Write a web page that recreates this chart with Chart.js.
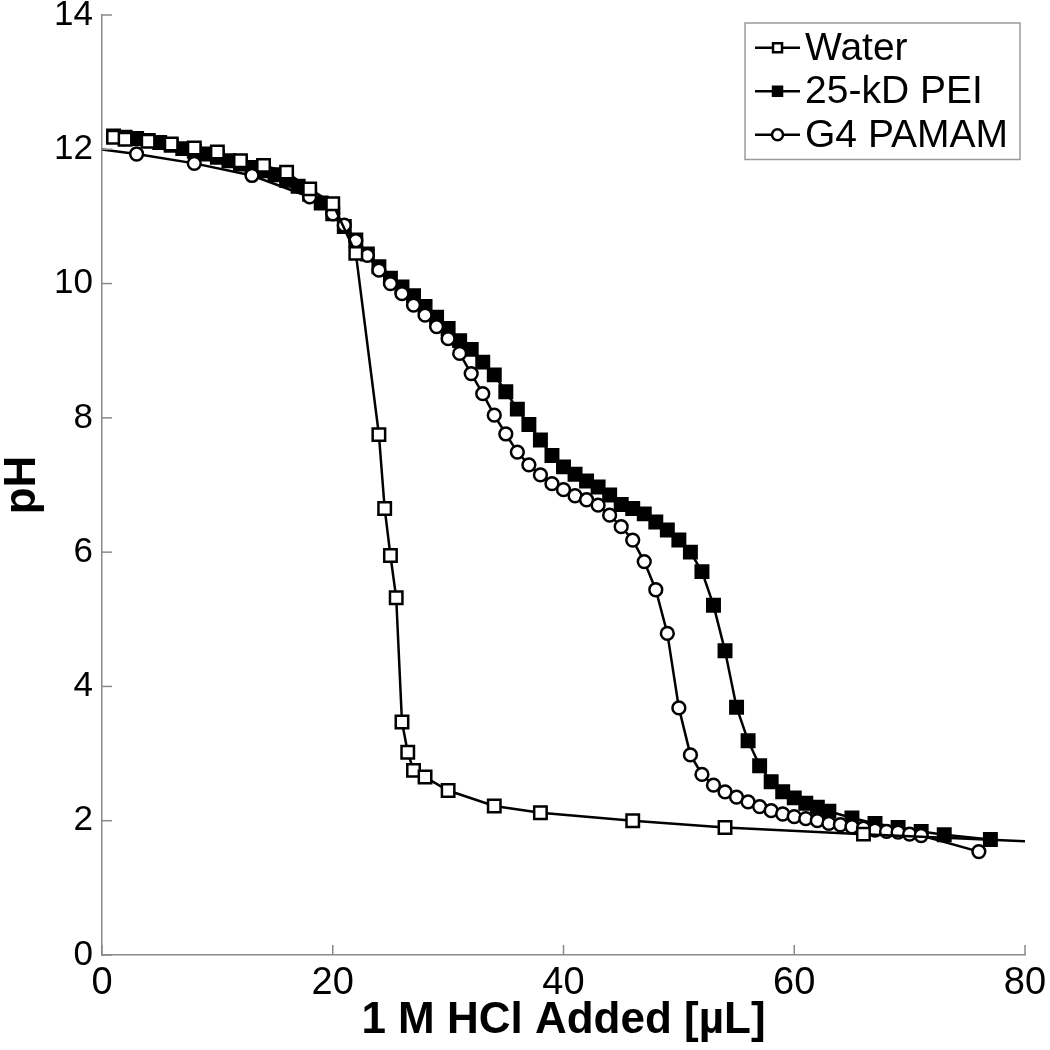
<!DOCTYPE html>
<html>
<head>
<meta charset="utf-8">
<script src="https://cdn.jsdelivr.net/npm/chart.js@4.4.1/dist/chart.umd.min.js"></script>
<style>
html, body { margin: 0; padding: 0; background: #fff; }
#wrap { width: 1050px; height: 1050px; }
</style>
</head>
<body>
<div id="wrap"><canvas id="chart" width="1050" height="1050"></canvas></div>
<script>
// titration data (uL of 1 M HCl vs pH)
const waterX  = [1, 2, 4, 6, 8, 10, 12, 14, 16, 18, 20, 22, 24, 24.5, 25, 25.5, 26, 26.5, 27, 28, 30, 34, 38, 46, 54, 66, 90];
const waterPH = [12.18, 12.15, 12.12, 12.08, 12.02, 11.96, 11.83, 11.76, 11.66, 11.41, 11.19, 10.45, 7.75, 6.65, 5.95, 5.32, 3.47, 3.02, 2.75, 2.65, 2.45, 2.22, 2.12, 2.0, 1.9, 1.8, 1.62];

const peiX  = [1, 2, 3, 4, 5, 6, 7, 8, 9, 10, 11, 12, 13, 14, 15, 16, 17, 18, 19, 20,
               21, 22, 23, 24, 25, 26, 27, 28, 29, 30, 31, 32, 33, 34, 35, 36, 37, 38, 39, 40,
               41, 42, 43, 44, 45, 46, 47, 48, 49, 50, 51, 52, 53, 54, 55, 56, 57, 58, 59, 60,
               61, 62, 63, 65, 67, 69, 71, 73, 77];
const peiPH = [12.2, 12.18, 12.16, 12.13, 12.1, 12.06, 12.01, 11.97, 11.93, 11.88, 11.83, 11.78, 11.73, 11.68, 11.62, 11.54, 11.45, 11.33, 11.2, 11.04,
               10.85, 10.65, 10.44, 10.25, 10.08, 9.95, 9.82, 9.66, 9.5, 9.33, 9.15, 9.02, 8.83, 8.64, 8.39, 8.13, 7.9, 7.67, 7.44, 7.27,
               7.16, 7.06, 6.97, 6.85, 6.71, 6.65, 6.57, 6.45, 6.33, 6.18, 6.0, 5.71, 5.21, 4.53, 3.69, 3.19, 2.82, 2.58, 2.43, 2.34,
               2.26, 2.2, 2.14, 2.04, 1.96, 1.9, 1.84, 1.79, 1.72];

const pamamX  = [-1, 3, 8, 13, 18, 20, 21, 22, 23, 24, 25, 26, 27, 28, 29, 30, 31, 32, 33, 34, 35,
                 36, 37, 38, 39, 40, 41, 42, 43, 44, 45, 46, 47, 48, 49, 50, 51, 52, 53, 54, 55,
                 56, 57, 58, 59, 60, 61, 62, 63, 64, 65, 66, 67, 68, 69, 70, 71, 76];
const pamamPH = [12.02, 11.93, 11.79, 11.61, 11.29, 11.04, 10.87, 10.64, 10.42, 10.2, 10.0, 9.85, 9.68, 9.53, 9.36, 9.18, 8.96, 8.66, 8.36, 8.04, 7.76,
                 7.49, 7.3, 7.15, 7.02, 6.93, 6.84, 6.78, 6.7, 6.55, 6.38, 6.18, 5.86, 5.44, 4.79, 3.68, 2.98, 2.69, 2.53, 2.43, 2.35,
                 2.28, 2.21, 2.15, 2.1, 2.06, 2.03, 2.0, 1.96, 1.94, 1.91, 1.89, 1.86, 1.84, 1.83, 1.8, 1.78, 1.54];

const seriesLabels = ['Water', '25-kD PEI', 'G4 PAMAM'];
const xTicks = [0, 20, 40, 60, 80];
const yTicks = [0, 2, 4, 6, 8, 10, 12, 14];

const FONT = '"Liberation Sans", Arial, Helvetica, sans-serif';
const AXIS_GREY = '#8a8a8a';

function toPoints(xs, ys) {
    return xs.map((x, i) => ({ x: x, y: ys[i] }));
}

// MATLAB style ticks pointing into the plot
const inwardTicks = {
    id: 'inwardTicks',
    afterDatasetsDraw(chart) {
        const { ctx, chartArea, scales } = chart;
        ctx.save();
        ctx.strokeStyle = AXIS_GREY;
        ctx.lineWidth = 1.5;
        xTicks.forEach(v => {
            const px = scales.x.getPixelForValue(v);
            ctx.beginPath();
            ctx.moveTo(px, chartArea.bottom);
            ctx.lineTo(px, chartArea.bottom - 10);
            ctx.stroke();
        });
        yTicks.forEach(v => {
            const py = scales.y.getPixelForValue(v);
            ctx.beginPath();
            ctx.moveTo(chartArea.left, py);
            ctx.lineTo(chartArea.left + 10, py);
            ctx.stroke();
        });
        ctx.restore();
    }
};

// boxed legend with line + marker samples
function drawMarker(ctx, style, filled, x, y, r) {
    ctx.beginPath();
    if (style === 'rect') {
        ctx.rect(x - r, y - r, 2 * r, 2 * r);
    } else {
        ctx.arc(x, y, r, 0, Math.PI * 2);
    }
    ctx.fillStyle = filled ? '#000' : '#fff';
    ctx.fill();
    ctx.stroke();
}

const boxLegend = {
    id: 'boxLegend',
    afterDraw(chart) {
        const { ctx, chartArea } = chart;
        const sets = chart.data.datasets;
        ctx.save();
        ctx.font = '39px ' + FONT;
        const textW = Math.max(...sets.map(d => ctx.measureText(d.label).width));
        const rowH = 43.5, lineLen = 45, gap = 5, padL = 10, padR = 12, padY = 3;
        const w = padL + lineLen + gap + textW + padR;
        const h = rowH * sets.length + padY * 2;
        const x0 = chartArea.right - 5 - w;
        const y0 = chartArea.top + 8;
        ctx.fillStyle = '#fff';
        ctx.fillRect(x0, y0, w, h);
        ctx.strokeStyle = '#9a9a9a';
        ctx.lineWidth = 1.5;
        ctx.strokeRect(x0, y0, w, h);
        sets.forEach((d, i) => {
            const cy = y0 + padY + rowH * (i + 0.5);
            ctx.strokeStyle = '#000';
            ctx.lineWidth = 2.5;
            ctx.beginPath();
            ctx.moveTo(x0 + padL, cy);
            ctx.lineTo(x0 + padL + lineLen, cy);
            ctx.stroke();
            drawMarker(ctx, d.pointStyle, d.pointBackgroundColor === '#000', x0 + padL + lineLen / 2, cy,
                       d.pointStyle === 'rect' ? 4.5 : 5.5);
            ctx.fillStyle = '#000';
            ctx.textBaseline = 'middle';
            ctx.textAlign = 'left';
            ctx.fillText(d.label, x0 + padL + lineLen + gap, cy + 1);
        });
        ctx.restore();
    }
};

function lineSet(label, pts, style, filled, order) {
    return {
        label: label,
        data: pts,
        showLine: true,
        borderColor: '#000',
        borderWidth: 2.5,
        pointStyle: style,
        pointRadius: style === 'rect' ? 8.8 : 6.4,
        pointBorderWidth: 2.5,
        pointBorderColor: '#000',
        pointBackgroundColor: filled ? '#000' : '#fff',
        tension: 0,
        order: order
    };
}

const noPad = scale => {
    scale.paddingTop = 0; scale.paddingBottom = 0;
    scale.paddingLeft = 0; scale.paddingRight = 0;
};

new Chart(document.getElementById('chart'), {
    type: 'scatter',
    data: {
        datasets: [
            lineSet(seriesLabels[0], toPoints(waterX, waterPH), 'rect', false, 0),
            lineSet(seriesLabels[1], toPoints(peiX, peiPH), 'rect', true, 2),
            lineSet(seriesLabels[2], toPoints(pamamX, pamamPH), 'circle', false, 1)
        ]
    },
    options: {
        responsive: false,
        animation: false,
        layout: { padding: { top: 15, right: 25, left: 0, bottom: 0 } },
        plugins: {
            legend: { display: false },
            tooltip: { enabled: false }
        },
        scales: {
            x: {
                type: 'linear',
                min: 0, max: 80,
                afterBuildTicks: s => { s.ticks = xTicks.map(v => ({ value: v })); },
                afterFit: s => { s.height = 95; noPad(s); },
                grid: { display: false, drawTicks: false },
                border: { display: true, color: AXIS_GREY, width: 1.5 },
                ticks: { color: '#000', padding: 6, font: { family: FONT, size: 38 } },
                title: {
                    display: true,
                    text: '1 M HCl Added [\u00b5L]',
                    color: '#000',
                    padding: { top: 0, bottom: 7 },
                    font: { family: FONT, size: 44, weight: 'bold', lineHeight: 1 }
                }
            },
            y: {
                type: 'linear',
                min: 0, max: 14,
                afterBuildTicks: s => { s.ticks = yTicks.map(v => ({ value: v })); },
                afterFit: s => { s.width = 102; noPad(s); },
                grid: { display: false, drawTicks: false },
                border: { display: true, color: AXIS_GREY, width: 1.5 },
                ticks: { color: '#000', padding: 9, font: { family: FONT, size: 35 } },
                title: {
                    display: true,
                    text: 'pH',
                    color: '#000',
                    padding: { top: 1, bottom: 0 },
                    font: { family: FONT, size: 44, weight: 'bold', lineHeight: 1 }
                }
            }
        }
    },
    plugins: [inwardTicks, boxLegend]
});
</script>
</body>
</html>
